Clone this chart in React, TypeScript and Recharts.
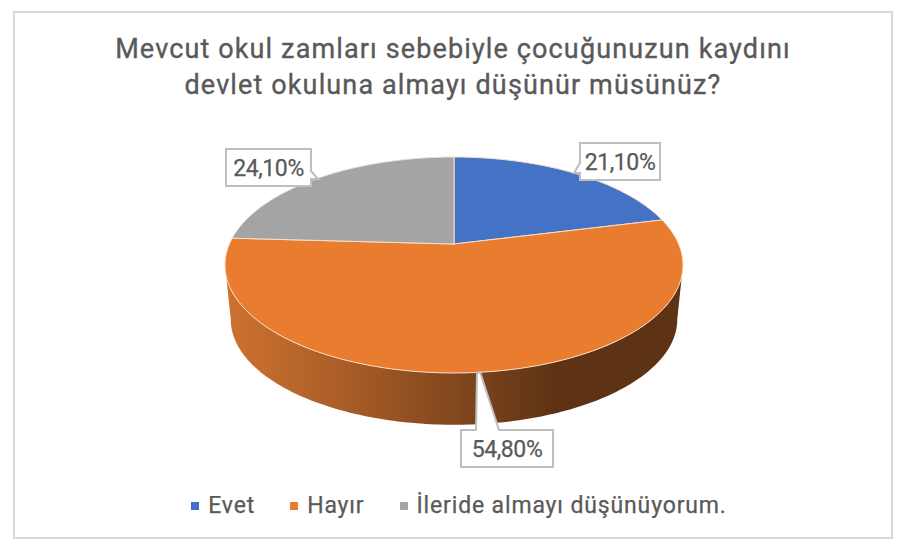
import { PieChart, Pie, Legend } from 'recharts'

const categories = ['Evet', 'Hayır', 'İleride almayı düşünüyorum.']
const shares = [21.1, 54.8, 24.1]
const colors = ['#4472C4', '#EA7C30', '#A4A4A4']

const chartData = categories.map(function (name, i) {
  return { name: name, value: shares[i], fill: colors[i] }
})

const FONT = 'Roboto, sans-serif'
const TEXT = '#595959'

// tilted disc: homography
const TILT = 0.1945
const SCALE_X = 2.246
const SCALE_Y = 1.039
const BOTTOM_SHRINK = 0.975
const BOTTOM_DROP = 55

// callout boxes, one per slice
const callouts = [
  { x: 580, y: 143, w: 80, h: 37, tail: 'M580,143 H660 V180 H580 V173 L574,173 L580,163 Z' },
  { x: 461, y: 430, w: 92, h: 37, tail: 'M461,430 H476 L477,373 L480,372 L499,430 H553 V467 H461 Z' },
  { x: 226, y: 149, w: 85, h: 37, tail: 'M226,149 H311 V171 L318,179 L311,179 V186 H226 Z' },
]

function project(p: any, deg: number, lower: boolean) {
  const a = (deg * Math.PI) / 180
  const u = Math.cos(a)
  const v = Math.sin(a)
  const w = 1 + TILT * v
  const s = lower ? BOTTOM_SHRINK : 1
  const y0 = lower ? p.cy + BOTTOM_DROP : p.cy
  return [
    p.cx + (p.outerRadius * SCALE_X * s * u) / w,
    y0 - (p.outerRadius * SCALE_Y * s * v) / w,
  ]
}

function arcPoints(p: any, from: number, to: number, lower: boolean) {
  const steps = Math.max(2, Math.ceil(Math.abs(to - from)))
  const pts = []
  for (let i = 0; i <= steps; i++) {
    pts.push(project(p, from + ((to - from) * i) / steps, lower))
  }
  return pts
}

function toPath(pts: number[][]) {
  return pts
    .map(function (q, i) {
      return (i === 0 ? 'M' : 'L') + q[0].toFixed(2) + ',' + q[1].toFixed(2)
    })
    .join(' ')
}

function DiscSlice(props: any) {
  const { cx, cy, startAngle, endAngle, fill, stroke } = props
  const tangent = (Math.asin(TILT) * 180) / Math.PI
  const wallFrom = Math.min(startAngle, -tangent)
  const wallTo = Math.max(endAngle, -180 + tangent)
  const hasWall = wallFrom > wallTo
  const face = toPath(arcPoints(props, startAngle, endAngle, false)) + ' L' + cx + ',' + cy + ' Z'

  return (
    <g>
      {hasWall && (
        <g>
          <defs>
            <linearGradient id="wallGradient" x1="0" y1="0" x2="1" y2="0">
              <stop offset="0%" stopColor="#CE7330" />
              <stop offset="27%" stopColor="#A85C26" />
              <stop offset="55%" stopColor="#7A431C" />
              <stop offset="72%" stopColor="#5E3314" />
              <stop offset="100%" stopColor="#5E3314" />
            </linearGradient>
          </defs>
          <path
            d={
              toPath(
                arcPoints(props, wallFrom, wallTo, false).concat(
                  arcPoints(props, wallTo, wallFrom, true)
                )
              ) + ' Z'
            }
            fill="url(#wallGradient)"
          />
        </g>
      )}
      <path d={face} fill={fill} stroke={stroke} strokeWidth={1} strokeLinejoin="round" />
    </g>
  )
}

function Callout(props: any) {
  const box = callouts[props.index]
  return (
    <g>
      <path d={box.tail} fill="#fff" stroke="#BFBFBF" strokeWidth={2} />
      <text
        x={box.x + box.w / 2}
        y={box.y + box.h / 2 + 1}
        textAnchor="middle"
        dominantBaseline="central"
        fontFamily={FONT}
        fontSize={23}
        letterSpacing={-0.4}
        stroke={TEXT}
        strokeWidth={0.25}
        fill={TEXT}
      >
        {props.value.toFixed(2).replace('.', ',') + '%'}
      </text>
    </g>
  )
}

function LegendRow(props: any) {
  const items = props.payload || []
  return (
    <div style={{
      display: 'flex',
      justifyContent: 'center',
      alignItems: 'center',
      gap: '35px',
      paddingLeft: '12px',
    }}>
      {items.map(function (item: any) {
        return (
          <div key={item.value} style={{ display: 'flex', alignItems: 'center' }}>
            <span style={{ width: '8px', height: '8px', marginRight: '9px', backgroundColor: item.color }} />
            <span style={{
              fontFamily: FONT,
              fontSize: '23px',
              letterSpacing: '0.85px',
              WebkitTextStroke: '0.25px ' + TEXT,
              color: TEXT,
            }}>
              {item.value}
            </span>
          </div>
        )
      })}
    </div>
  )
}

export default function App() {
  return (
    <div style={{ position: 'absolute', left: 0, top: 0, width: '906px', height: '552px', background: '#fff' }}>
      <div style={{
        position: 'absolute',
        left: '13px',
        top: '11px',
        width: '880px',
        height: '528px',
        boxSizing: 'border-box',
        border: '2px solid #D9D9D9',
      }} />
      <div style={{
        position: 'absolute',
        left: 0,
        top: '31px',
        width: '906px',
        textAlign: 'center',
        fontFamily: FONT,
        fontSize: '27px',
        lineHeight: '36px',
        letterSpacing: '1.13px',
        WebkitTextStroke: '0.35px ' + TEXT,
        color: TEXT,
      }}>
        Mevcut okul zamları sebebiyle çocuğunuzun kaydını
        <br />
        devlet okuluna almayı düşünür müsünüz?
      </div>
      <PieChart
        width={906}
        height={552}
        margin={{ top: 0, right: 0, bottom: 0, left: 0 }}
        style={{ position: 'absolute', left: 0, top: 0 }}
      >
        <Pie
          data={chartData}
          dataKey="value"
          nameKey="name"
          cx={454}
          cy={244}
          innerRadius={0}
          outerRadius={100}
          startAngle={90}
          endAngle={-270}
          stroke="#F7DFCB"
          shape={DiscSlice}
          label={Callout}
          labelLine={false}
          isAnimationActive={false}
        />
        <Legend
          content={LegendRow}
          wrapperStyle={{ position: 'absolute', left: 0, top: 492, width: 906 }}
        />
      </PieChart>
    </div>
  )
}
